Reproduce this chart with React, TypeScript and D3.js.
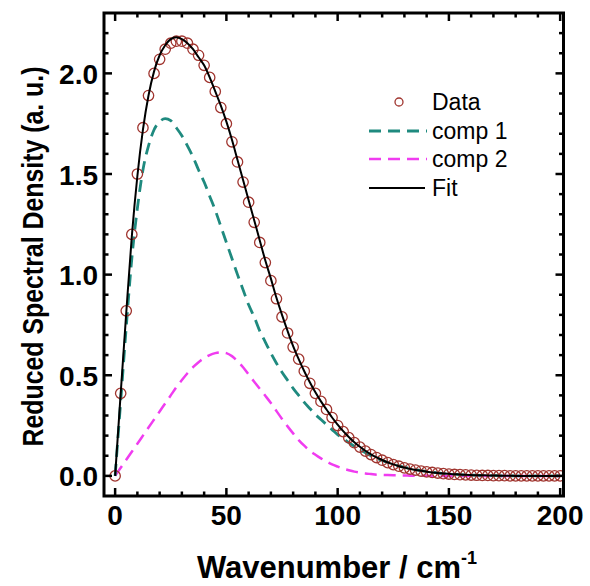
import React from "react";
import * as d3 from "d3";

const wavenumber = [
  0, 2.5, 5, 7.5, 10, 12.5, 15, 17.5, 20, 22.5, 25, 27.5, 30, 32.5, 35, 37.5, 40, 42.5, 45, 47.5,
  50, 52.5, 55, 57.5, 60, 62.5, 65, 67.5, 70, 72.5, 75, 77.5, 80, 82.5, 85, 87.5, 90, 92.5, 95, 97.5,
  100, 102.5, 105, 107.5, 110, 112.5, 115, 117.5, 120, 122.5, 125, 127.5, 130, 132.5, 135, 137.5, 140, 142.5, 145, 147.5,
  150, 152.5, 155, 157.5, 160, 162.5, 165, 167.5, 170, 172.5, 175, 177.5, 180, 182.5, 185, 187.5, 190, 192.5, 195, 197.5, 200,
];

const dataValues = [
  0, 0.41, 0.82, 1.2, 1.5, 1.73, 1.89, 2.0, 2.07, 2.12, 2.15, 2.16, 2.16, 2.15, 2.12, 2.09, 2.04, 1.98, 1.91, 1.83,
  1.75, 1.66, 1.56, 1.46, 1.36, 1.26, 1.16, 1.06, 0.97, 0.88, 0.79, 0.71, 0.64, 0.58, 0.52, 0.46, 0.41, 0.37, 0.33, 0.29,
  0.25, 0.22, 0.19, 0.165, 0.143, 0.123, 0.106, 0.091, 0.078, 0.066, 0.056, 0.048, 0.04, 0.034, 0.029, 0.024, 0.02, 0.017, 0.014, 0.011,
  0.009, 0.007, 0.006, 0.005, 0.004, 0.003, 0.002, 0.002, 0.001, 0.001, 0.001, 0, 0, 0, 0, 0, 0, 0, 0, 0, 0,
];

const fitValues = [
  0, 0.41, 0.81, 1.19, 1.49, 1.72, 1.89, 2.01, 2.09, 2.14, 2.17, 2.18, 2.17, 2.15, 2.12, 2.08, 2.04, 1.98, 1.91, 1.84,
  1.76, 1.67, 1.57, 1.47, 1.37, 1.27, 1.17, 1.07, 0.98, 0.885, 0.8, 0.72, 0.645, 0.58, 0.52, 0.465, 0.415, 0.37, 0.33, 0.29,
  0.255, 0.222, 0.193, 0.167, 0.145, 0.125, 0.107, 0.092, 0.079, 0.067, 0.057, 0.048, 0.041, 0.035, 0.029, 0.025, 0.021, 0.017, 0.014, 0.012,
  0.01, 0.008, 0.007, 0.005, 0.004, 0.003, 0.003, 0.002, 0.002, 0.001, 0.001, 0.001, 0, 0, 0, 0, 0, 0, 0, 0, 0,
];

const comp1Values = [
  0, 0.37, 0.74, 1.08, 1.33, 1.52, 1.64, 1.72, 1.76, 1.775, 1.765, 1.73, 1.69, 1.64, 1.585, 1.52, 1.46, 1.39, 1.32, 1.24,
  1.16, 1.08, 1.0, 0.925, 0.85, 0.79, 0.72, 0.665, 0.61, 0.56, 0.515, 0.475, 0.435, 0.4, 0.365, 0.335, 0.305, 0.28, 0.255, 0.23,
  0.205, 0.185, 0.165, 0.147, 0.13, 0.115, 0.1, 0.088, 0.077, 0.067, 0.058, 0.05, 0.043, 0.036, 0.031, 0.026, 0.022, 0.018, 0.015, 0.012,
  0.01, 0.008, 0.006, 0.005, 0.004, 0.003, 0.002, 0.002, 0.001, 0.001, 0, 0, 0, 0, 0, 0, 0, 0, 0, 0, 0,
];

const comp2Values = [
  0, 0.04, 0.08, 0.12, 0.16, 0.2, 0.24, 0.28, 0.32, 0.36, 0.4, 0.44, 0.476, 0.51, 0.54, 0.565, 0.585, 0.6, 0.61, 0.614,
  0.61, 0.595, 0.57, 0.54, 0.503, 0.468, 0.433, 0.398, 0.362, 0.322, 0.283, 0.246, 0.211, 0.178, 0.15, 0.125, 0.105, 0.087, 0.071, 0.057,
  0.046, 0.036, 0.028, 0.021, 0.016, 0.012, 0.009, 0.006, 0.005, 0.004, 0.003, 0.002, 0.002, 0.001, 0.001, 0.001, 0.001, 0, 0, 0,
  0, 0, 0, 0, 0, 0, 0, 0, 0, 0, 0, 0, 0, 0, 0, 0, 0, 0, 0, 0, 0,
];

const xMajorTicks = [0, 50, 100, 150, 200];
const xMinorTicks = [10, 20, 30, 40, 60, 70, 80, 90, 110, 120, 130, 140, 160, 170, 180, 190];
const yMajorTicks = [0, 0.5, 1.0, 1.5, 2.0];
const yMinorTicks = [0.1, 0.2, 0.3, 0.4, 0.6, 0.7, 0.8, 0.9, 1.1, 1.2, 1.3, 1.4, 1.6, 1.7, 1.8, 1.9, 2.1, 2.2];

const legendLabels = ["Data", "comp 1", "comp 2", "Fit"];

const COLORS = {
  data: "#a0352f",
  comp1: "#1f8a7f",
  comp2: "#f03cf0",
  fit: "#000000",
};

const FONT = "'Liberation Sans', Arial, Helvetica, sans-serif";

export default function App() {
  const W = 590;
  const H = 586;
  const left = 104;
  const right = 563.5;
  const top = 13;
  const bottom = 496;

  const x = d3.scaleLinear().domain([-5, 201.5]).range([left, right]);
  const y = d3.scaleLinear().domain([-0.1, 2.3]).range([bottom, top]);

  const mk = (vals: number[]) =>
    d3
      .line<number>()
      .x((_, i) => x(wavenumber[i]))
      .y((v) => y(v))
      .curve(d3.curveMonotoneX)(vals) || "";

  const fitPath = mk(fitValues);
  const c1Path = mk(comp1Values);
  const c2Path = mk(comp2Values);

  const majorLen = 8;
  const minorLen = 4.5;
  const tickW = 2.5;

  const legendX0 = 369;
  const legendX1 = 427;
  const legendTextX = 432;
  const legendYs = [102, 131, 159, 188];

  return (
    <svg
      width={W}
      height={H}
      style={{ position: "absolute", left: 0, top: 0, background: "#fff" }}
      fontFamily={FONT}
    >
      <rect x={0} y={0} width={W} height={H} fill="#fff" />
      <defs>
        <clipPath id="plotclip">
          <rect x={left} y={top} width={right - left} height={bottom - top} />
        </clipPath>
      </defs>

      {/* curves */}
      <g clipPath="url(#plotclip)">
        <path d={c2Path} fill="none" stroke={COLORS.comp2} strokeWidth={2.5} strokeDasharray="12,7" />
        <path d={c1Path} fill="none" stroke={COLORS.comp1} strokeWidth={2.8} strokeDasharray="12,7" />
        {dataValues.map((v, i) => (
          <circle
            key={i}
            cx={x(wavenumber[i])}
            cy={y(v)}
            r={5.2}
            fill="none"
            stroke={COLORS.data}
            strokeWidth={1.3}
          />
        ))}
        <path d={fitPath} fill="none" stroke={COLORS.fit} strokeWidth={2} />
      </g>

      {/* ticks */}
      <g stroke="#000" strokeWidth={tickW}>
        {xMajorTicks.map((t) => (
          <g key={"xM" + t}>
            <line x1={x(t)} x2={x(t)} y1={bottom} y2={bottom - majorLen} />
            <line x1={x(t)} x2={x(t)} y1={top} y2={top + majorLen} />
          </g>
        ))}
        {xMinorTicks.map((t) => (
          <g key={"xm" + t}>
            <line x1={x(t)} x2={x(t)} y1={bottom} y2={bottom - minorLen} />
            <line x1={x(t)} x2={x(t)} y1={top} y2={top + minorLen} />
          </g>
        ))}
        {yMajorTicks.map((t) => (
          <g key={"yM" + t}>
            <line x1={left} x2={left + majorLen} y1={y(t)} y2={y(t)} />
            <line x1={right} x2={right - majorLen} y1={y(t)} y2={y(t)} />
          </g>
        ))}
        {yMinorTicks.map((t) => (
          <g key={"ym" + t}>
            <line x1={left} x2={left + minorLen} y1={y(t)} y2={y(t)} />
            <line x1={right} x2={right - minorLen} y1={y(t)} y2={y(t)} />
          </g>
        ))}
      </g>

      {/* frame */}
      <rect x={left} y={top} width={right - left} height={bottom - top} fill="none" stroke="#000" strokeWidth={3} />

      {/* tick labels */}
      <g fontWeight="bold" fontSize={28} fill="#000">
        {xMajorTicks.map((t) => (
          <text key={"xl" + t} x={x(t)} y={525} textAnchor="middle">
            {d3.format("d")(t)}
          </text>
        ))}
        {yMajorTicks.map((t) => (
          <text key={"yl" + t} x={98} y={y(t) + 1} textAnchor="end" dominantBaseline="central">
            {d3.format(".1f")(t)}
          </text>
        ))}
      </g>

      {/* axis titles */}
      <text x={337} y={578} textAnchor="middle" fontWeight="bold" fontSize={31} fill="#000">
        Wavenumber / cm
        <tspan fontSize={18} dy={-14}>-1</tspan>
      </text>
      <text
        transform={`translate(43, ${(top + bottom) / 2 + 2}) rotate(-90)`}
        textAnchor="middle"
        fontWeight="bold"
        fontSize={29}
        textLength={380}
        lengthAdjust="spacingAndGlyphs"
        fill="#000"
      >
        Reduced Spectral Density (a. u.)
      </text>

      {/* legend */}
      <g fontSize={23} fill="#000">
        <circle cx={399} cy={legendYs[0]} r={4} fill="none" stroke={COLORS.data} strokeWidth={1.3} />
        <line x1={legendX0} x2={legendX1} y1={legendYs[1]} y2={legendYs[1]} stroke={COLORS.comp1} strokeWidth={2.8} strokeDasharray="12,7" />
        <line x1={legendX0} x2={legendX1} y1={legendYs[2]} y2={legendYs[2]} stroke={COLORS.comp2} strokeWidth={2.5} strokeDasharray="12,7" />
        <line x1={legendX0} x2={legendX1 - 2} y1={legendYs[3]} y2={legendYs[3]} stroke={COLORS.fit} strokeWidth={2} />
        {legendLabels.map((l, i) => (
          <text key={l} x={legendTextX} y={legendYs[i]} dominantBaseline="central">
            {l}
          </text>
        ))}
      </g>
    </svg>
  );
}
